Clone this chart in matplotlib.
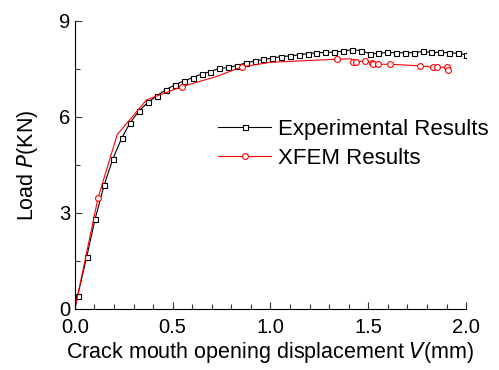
import numpy as np
import matplotlib
matplotlib.use("Agg")
import matplotlib.pyplot as plt
from matplotlib.ticker import MultipleLocator

plt.rcParams['font.family'] = ['Liberation Sans', 'DejaVu Sans']

# experimental curve
exp_v = [0.0, 0.014, 0.060, 0.104, 0.150, 0.194, 0.239, 0.283, 0.329, 0.373, 0.419,
         0.465, 0.510, 0.556, 0.602, 0.648, 0.692, 0.738, 0.783, 0.829, 0.873,
         0.919, 0.963, 1.009, 1.054, 1.100, 1.144, 1.190, 1.234, 1.280, 1.325,
         1.371, 1.415, 1.461, 1.507, 1.552, 1.598, 1.642, 1.688, 1.732, 1.778,
         1.823, 1.869, 1.915, 1.959, 2.000]
exp_p = [0.0, 0.40, 1.61, 2.82, 3.87, 4.68, 5.33, 5.82, 6.19, 6.45, 6.65,
         6.85, 6.99, 7.12, 7.22, 7.34, 7.41, 7.51, 7.54, 7.60, 7.68,
         7.74, 7.79, 7.83, 7.88, 7.90, 7.93, 7.97, 8.00, 8.01, 8.02,
         8.05, 8.09, 8.07, 7.97, 7.98, 8.01, 8.00, 8.00, 8.00, 8.04,
         8.01, 8.01, 8.00, 7.98, 7.94]

# XFEM curve; only some vertices carry a marker
xfem_v = [0.0, 0.119, 0.217, 0.367, 0.546, 0.725, 0.854, 0.997, 1.342, 1.415,
          1.424, 1.437, 1.483, 1.518, 1.526, 1.548, 1.611, 1.765, 1.833, 1.850,
          1.904, 1.910]
xfem_p = [0.0, 3.48, 5.45, 6.53, 6.94, 7.26, 7.56, 7.70, 7.80, 7.81,
          7.72, 7.72, 7.74, 7.67, 7.64, 7.64, 7.64, 7.59, 7.55, 7.55,
          7.55, 7.46]
xfem_marks = [1, 4, 6, 8, 10, 11, 12, 13, 14, 15, 16, 17, 18, 19, 20, 21]

fig = plt.figure(figsize=(4.99, 3.70), dpi=100)
ax = fig.add_axes([0.150, 0.165, 0.784, 0.779])

ax.plot(exp_v, exp_p, color='black', lw=0.8, marker='s', ms=3.6,
        mfc='white', mec='black', mew=0.8, markevery=list(range(1, len(exp_v))),
        label='Experimental Results')
ax.plot(xfem_v, xfem_p, color='red', lw=0.8, marker='o', ms=4.2,
        mfc='white', mec='red', mew=0.8, markevery=xfem_marks,
        label='XFEM Results')

ax.set_xlim(0, 2.0)
ax.set_ylim(0, 9)
ax.xaxis.set_major_locator(MultipleLocator(0.5))
ax.xaxis.set_minor_locator(MultipleLocator(0.1))
ax.yaxis.set_major_locator(MultipleLocator(3))
ax.yaxis.set_minor_locator(MultipleLocator(1.5))
ax.xaxis.set_major_formatter(matplotlib.ticker.FormatStrFormatter('%.1f'))
ax.tick_params(which='both', direction='in', labelsize=14.5, color='#333333')
ax.tick_params(which='major', length=5, width=0.8)
ax.tick_params(which='minor', length=3.5, width=0.8)
ax.tick_params(axis='x', which='major', pad=6.5)
ax.tick_params(axis='y', which='major', pad=3)
ax.spines['top'].set_visible(False)
ax.spines['right'].set_visible(False)
for s in ['left', 'bottom']:
    ax.spines[s].set_linewidth(0.8)

ax.set_xlabel('Crack mouth opening displacement $\\mathit{V}$(mm)', fontsize=15.5, labelpad=2)
ax.set_ylabel('Load $\\mathit{P}$(KN)', fontsize=15.5, labelpad=14)

ax.legend(loc='upper left', bbox_to_anchor=(0.366, 0.66), frameon=False,
          fontsize=16, handlelength=2.4, handletextpad=0.3, labelspacing=0.36,
          borderaxespad=0, borderpad=0)

fig.savefig('out.png', dpi=100)
